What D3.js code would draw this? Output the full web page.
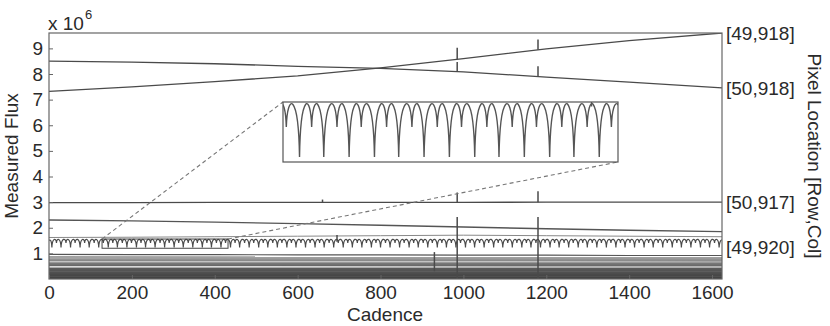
<!DOCTYPE html>
<html lang="en">
<head>
  <meta charset="UTF-8">
  <title>Measured Flux vs Cadence</title>
  <script src="https://d3js.org/d3.v7.min.js"></script>
  <style>
    body { margin: 0; background: #fff; }
    svg { display: block; font-family: 'Liberation Sans', Arial, sans-serif; }
    .axis text { font-size: 19px; fill: #2a2a2a; }
    .axis line { stroke: #666; }
    .lbl { font-size: 19px; fill: #2a2a2a; }
  </style>
</head>
<body>
<svg id="chart" width="830" height="326"></svg>
<script>
// ---------- data (flux in units of 10^6) ----------
const cadenceTicks = [0, 200, 400, 600, 800, 1000, 1200, 1400, 1600];
const fluxTicks = [1, 2, 3, 4, 5, 6, 7, 8, 9];

const trendCadence = [0, 200, 400, 600, 800, 1000, 1200, 1400, 1624];
const flux49_918 = [7.32, 7.50, 7.70, 7.93, 8.24, 8.60, 8.98, 9.30, 9.60];
const flux50_918 = [8.50, 8.46, 8.40, 8.30, 8.22, 8.08, 7.88, 7.68, 7.46];
const flux50_917 = [2.98, 2.98, 2.99, 2.99, 2.99, 2.99, 3.00, 3.00, 3.00];
const fluxUpper  = [2.30, 2.27, 2.22, 2.16, 2.10, 2.03, 1.96, 1.90, 1.85];
const fluxMid    = [1.62, 1.63, 1.65, 1.67, 1.69, 1.71, 1.69, 1.67, 1.65];
const fluxLow    = [0.96, 0.95, 0.95, 0.94, 0.94, 0.93, 0.93, 0.92, 0.92];

// faint pixels crowded at the bottom
const bandCadence = [0, 1624];
const bandFluxStart = [0.02, 0.07, 0.12, 0.17, 0.22, 0.27, 0.32, 0.37, 0.42, 0.53, 0.58, 0.62, 0.72, 0.77, 0.82, 0.86];
const bandFluxEnd   = [0.02, 0.07, 0.12, 0.17, 0.22, 0.27, 0.32, 0.37, 0.42, 0.52, 0.57, 0.62, 0.71, 0.76, 0.81, 0.85];

// spikes (cadence, from, to)
const spikeCadence = [985, 985, 1180, 1180, 985, 1180, 985, 1180, 930, 660, 695];
const spikeFrom    = [8.58, 8.08, 8.95, 7.90, 2.98, 3.00, 0.00, 0.00, 0.30, 2.99, 1.45];
const spikeTo      = [9.02, 8.47, 9.35, 8.30, 3.38, 3.42, 2.42, 2.42, 1.05, 3.10, 1.72];

// eclipsing binary pixel [49,920]
const ebPrimaryCadence = [7, 29, 52, 75, 97, 120, 143, 165, 188, 211, 233, 256, 279, 302, 324, 347, 370, 392,
  415, 438, 460, 483, 506, 528, 551, 574, 596, 619, 642, 664, 687, 710, 732, 755, 778, 800, 823, 846, 869, 891,
  914, 937, 959, 982, 1005, 1027, 1050, 1073, 1095, 1118, 1141, 1163, 1186, 1209, 1231, 1254, 1277, 1299, 1322,
  1345, 1368, 1390, 1413, 1436, 1458, 1481, 1504, 1526, 1549, 1572, 1594, 1617];
const ebSecondaryCadence = [18, 41, 63, 86, 109, 131, 154, 177, 199, 222, 245, 268, 290, 313, 336, 358, 381, 404,
  426, 449, 472, 494, 517, 540, 562, 585, 608, 630, 653, 676, 698, 721, 744, 766, 789, 812, 835, 857, 880, 903,
  925, 948, 971, 993, 1016, 1039, 1061, 1084, 1107, 1129, 1152, 1175, 1197, 1220, 1243, 1265, 1288, 1311, 1333,
  1356, 1379, 1402, 1424, 1447, 1470, 1492, 1515, 1538, 1560, 1583, 1606];
const ebPrimaryFlux = 1.23;
const ebSecondaryFlux = 1.41;
const ebPeakFlux = 1.545;
const ebEdgeFlux = 1.50;
const ebSpikeCadence = [408];
const ebSpikeTo = [1.575];

const zoomCadence = [128, 432];
const zoomFlux = [1.20, 1.56];

const pixelLabels = ["[49,918]", "[50,918]", "[50,917]", "[49,920]"];
const pixelLabelFlux = [9.6, 7.46, 2.98, 1.25];

// ---------- layout ----------
const svg = d3.select("#chart");
const mLeft = 49, mRight = 722, mTop = 33, mBottom = 279;
const x = d3.scaleLinear().domain([0, 1624]).range([mLeft, mRight]);
const y = d3.scaleLinear().domain([0, 9.6]).range([mBottom, mTop]);

const inset = { x0: 283, x1: 618, y0: 102, y1: 162 };
const xi = d3.scaleLinear().domain(zoomCadence).range([inset.x0, inset.x1]);
const yi = d3.scaleLinear().domain(zoomFlux).range([inset.y1, inset.y0]);

const defs = svg.append("defs");
defs.append("clipPath").attr("id", "plotClip")
  .append("rect").attr("x", mLeft).attr("y", mTop).attr("width", mRight - mLeft).attr("height", mBottom - mTop);
defs.append("clipPath").attr("id", "insetClip")
  .append("rect").attr("x", inset.x0).attr("y", inset.y0)
  .attr("width", inset.x1 - inset.x0).attr("height", inset.y1 - inset.y0);

const plot = svg.append("g").attr("clip-path", "url(#plotClip)");

const line = d3.line().x(d => x(d[0])).y(d => y(d[1]));
const zip = (cs, vs) => cs.map((c, i) => [c, vs[i]]);

// bottom band
const shade = d3.scaleLinear().domain([0, 0.45, 0.9]).range(["#3e3e3e", "#5c5c5c", "#a6a6a6"]);
bandFluxStart.forEach((f, i) => {
  plot.append("path")
    .attr("d", line(zip(bandCadence, [f, bandFluxEnd[i]])))
    .attr("fill", "none").attr("stroke", shade(f)).attr("stroke-width", 1.7);
});

// trend series
[[flux49_918, "#4a4a4a", 1.3], [flux50_918, "#4a4a4a", 1.3], [flux50_917, "#4a4a4a", 1.3],
 [fluxUpper, "#555", 1.4], [fluxMid, "#888", 1], [fluxLow, "#555", 1.1]].forEach(([vals, col, w]) => {
  plot.append("path")
    .attr("d", line(zip(trendCadence, vals)))
    .attr("fill", "none").attr("stroke", col).attr("stroke-width", w);
});

// eclipsing binary light curve: sharp minima joined by rounded humps
const ebMinima = ebPrimaryCadence.map(c => ({ c, f: ebPrimaryFlux }))
  .concat(ebSecondaryCadence.map(c => ({ c, f: ebSecondaryFlux })))
  .sort((a, b) => a.c - b.c);

function ebPath(sx, sy) {
  const p = d3.path();
  const yp = sy(ebPeakFlux);
  const hump = (x0, y0, x1, y1) => {
    const w = x1 - x0;
    const yc = (yp - 0.125 * (y0 + y1)) / 0.75;
    p.bezierCurveTo(x0 + 0.08 * w, yc, x1 - 0.08 * w, yc, x1, y1);
  };
  const first = ebMinima[0], last = ebMinima[ebMinima.length - 1];
  p.moveTo(sx(0), sy(ebEdgeFlux));
  p.bezierCurveTo(sx(first.c * 0.4), sy(ebPeakFlux), sx(first.c) - 0.5, sy(ebPeakFlux), sx(first.c), sy(first.f));
  for (let i = 1; i < ebMinima.length; i++) {
    const a = ebMinima[i - 1], b = ebMinima[i];
    hump(sx(a.c), sy(a.f), sx(b.c), sy(b.f));
  }
  p.bezierCurveTo(sx(last.c) + 0.5, sy(ebPeakFlux), sx(1624), sy(ebPeakFlux), sx(1624), sy(ebEdgeFlux));
  return p.toString();
}

plot.append("path").attr("d", ebPath(x, y))
  .attr("fill", "none").attr("stroke", "#4a4a4a").attr("stroke-width", 1.2);

// spikes
spikeCadence.forEach((c, i) => {
  plot.append("line")
    .attr("x1", x(c)).attr("x2", x(c))
    .attr("y1", y(spikeFrom[i])).attr("y2", y(spikeTo[i]))
    .attr("stroke", "#4a4a4a").attr("stroke-width", 1.5);
});

// zoom box in main plot
svg.append("rect")
  .attr("x", x(zoomCadence[0])).attr("y", y(zoomFlux[1]))
  .attr("width", x(zoomCadence[1]) - x(zoomCadence[0]))
  .attr("height", y(zoomFlux[0]) - y(zoomFlux[1]))
  .attr("fill", "none").attr("stroke", "#444").attr("stroke-width", 1);

// dashed connectors
const dashed = [
  [x(zoomCadence[0]), y(zoomFlux[1]), inset.x0, inset.y0],
  [x(zoomCadence[1]), y(zoomFlux[1]), inset.x1, inset.y1]
];
dashed.forEach(([x1, y1, x2, y2]) => {
  svg.append("line").attr("x1", x1).attr("y1", y1).attr("x2", x2).attr("y2", y2)
    .attr("stroke", "#777").attr("stroke-width", 1.1).attr("stroke-dasharray", "4,3");
});

// inset
svg.append("rect")
  .attr("x", inset.x0).attr("y", inset.y0)
  .attr("width", inset.x1 - inset.x0).attr("height", inset.y1 - inset.y0)
  .attr("fill", "#fff");
const ig = svg.append("g").attr("clip-path", "url(#insetClip)");
ig.append("path").attr("d", ebPath(xi, yi))
  .attr("fill", "none").attr("stroke", "#555").attr("stroke-width", 1.4);
ebSpikeCadence.forEach((c, i) => {
  ig.append("line").attr("x1", xi(c)).attr("x2", xi(c))
    .attr("y1", yi(ebPeakFlux) + 2).attr("y2", yi(ebSpikeTo[i]))
    .attr("stroke", "#555").attr("stroke-width", 1.4);
});
svg.append("rect")
  .attr("x", inset.x0).attr("y", inset.y0)
  .attr("width", inset.x1 - inset.x0).attr("height", inset.y1 - inset.y0)
  .attr("fill", "none").attr("stroke", "#555").attr("stroke-width", 1.2);

// axes
svg.append("g").attr("class", "axis")
  .attr("transform", `translate(${mLeft},0)`)
  .call(d3.axisLeft(y).tickValues(fluxTicks).tickSize(-4).tickPadding(6).tickFormat(d3.format("d")))
  .call(g => g.select(".domain").remove());
svg.append("g").attr("class", "axis")
  .attr("transform", `translate(0,${mBottom})`)
  .call(d3.axisBottom(x).tickValues(cadenceTicks).tickSize(-4).tickPadding(7).tickFormat(d3.format("d")))
  .call(g => g.select(".domain").remove());

svg.append("rect")
  .attr("x", mLeft).attr("y", mTop).attr("width", mRight - mLeft).attr("height", mBottom - mTop)
  .attr("fill", "none").attr("stroke", "#666").attr("stroke-width", 1.2);

// right-hand pixel labels
svg.selectAll(".pix").data(pixelLabels).enter().append("text")
  .attr("class", "lbl pix")
  .attr("x", mRight + 4)
  .attr("y", (d, i) => y(pixelLabelFlux[i]))
  .attr("dy", "0.36em")
  .text(d => d);

// titles
svg.append("text").attr("class", "lbl")
  .attr("transform", "translate(18,156) rotate(-90)")
  .attr("text-anchor", "middle").text("Measured Flux");
svg.append("text").attr("class", "lbl")
  .attr("transform", "translate(808,156) rotate(90)")
  .attr("text-anchor", "middle").text("Pixel Location [Row,Col]");
svg.append("text").attr("class", "lbl")
  .attr("x", 385).attr("y", 321).attr("text-anchor", "middle").text("Cadence");
const sci = svg.append("text").attr("class", "lbl").attr("x", 48).attr("y", 30);
sci.append("tspan").text("x 10");
sci.append("tspan").attr("dx", 1).attr("dy", -11).style("font-size", "13px").text("6");
</script>
</body>
</html>
